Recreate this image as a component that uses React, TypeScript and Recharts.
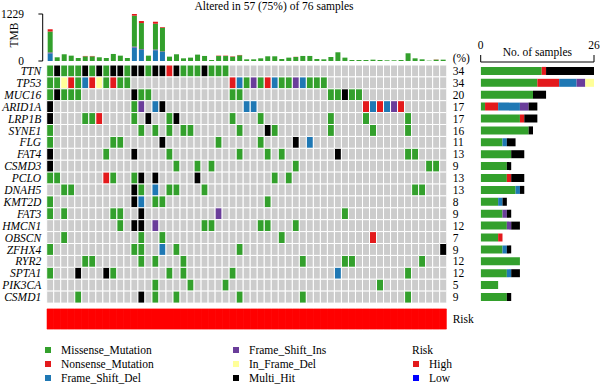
import React from 'react';
import { BarChart, Bar, XAxis, YAxis, Cell, LabelList, Label } from 'recharts';

const FONT = '"Liberation Serif", "Times New Roman", serif';

// genes (rows of the oncoplot), top to bottom
const genes = ['TTN', 'TP53', 'MUC16', 'ARID1A', 'LRP1B', 'SYNE1', 'FLG', 'FAT4', 'CSMD3', 'PCLO',
  'DNAH5', 'KMT2D', 'FAT3', 'HMCN1', 'OBSCN', 'ZFHX4', 'RYR2', 'SPTA1', 'PIK3CA', 'CSMD1'];
const genePct = [34, 34, 20, 17, 17, 16, 11, 13, 9, 13, 13, 8, 9, 12, 7, 9, 12, 12, 5, 9];

// one string per gene, one char per altered sample (57)
// G missense, R nonsense, B frame shift del, P frame shift ins, Y in frame del, K multi hit, . none
const mutationRows = [
  'GKGGGKGKGK KGKKGKKRKG GGKGGG.... .......... .......... .......',
  'GGYRGBRYGR GG........ ......RBGP GRBGGPBGGG .......... .......',
  'GKGGG..... ..KGG..... ......GG.. .......... GGKGG..... .......',
  'K......... ..GP.BK... ........BB .......... .....RBRBP R......',
  'K....GGR.. ..G.K..GK. ......G... G......... G....G.... .G.....',
  'G......... ...G.G.G.G G......G.. .KG....... G.....G... .G.....',
  'G........G G.....K... ....G..... G....K.B.. .......... .......',
  'K.......G. ..K....G.. .......G.. .G.G...... .K........ .GG....',
  'K......... ........G. .G.G...... .....G.... .......... ....GG.',
  'GG......RG ..GK.K.... .K........ ..G.G..... .......... .......',
  '..GG...... ..KG.B.GG. ..G....... .......... .......... ..GG...',
  'G......... ..KB.GG... .......... .G........ .......... .......',
  'G.G......G G..K...... ....P..... .......... ..G....... .......',
  '.......... G.KK.P.... ..GG...... GG...G.... .......... .......',
  '..G....... ...G..G... .......... ...G...... ......R... .......',
  'G......... ..GG..B.G. .......G.. .......... .......... ......K',
  '.....GG... ...G.G...G .......... ......G... ..GG...... ...G...',
  'G...K...KG .......G.G ......G... .......... .B........ .G.....',
  '.......... .....G.... G....G.... .......... .......G.. .......',
  '....G..... ...K.G..G. .......G.. ......G... .......... .G.....',
].map((s) => s.replace(/ /g, ''));

// TMB per sample, split by variant class
const tmbMissense = [545, 97, 176, 140, 79, 122, 122, 97, 79, 184, 140, 79, 808, 682, 140, 673, 617, 114, 176, 70,
  88, 167, 132, 26, 130, 130, 113, 150, 44, 44, 70, 123, 123, 53, 88, 105, 132, 132, 53, 44,
  105, 228, 88, 26, 26, 26, 35, 26, 18, 18, 26, 202, 70, 44, 9, 35, 35];
const tmbNonsense = [60, 0, 0, 0, 0, 10, 10, 0, 0, 0, 0, 0, 44, 53, 0, 53, 18, 0, 0, 0,
  0, 0, 0, 0, 10, 10, 10, 8, 0, 0, 0, 0, 0, 0, 0, 5, 0, 0, 0, 0,
  0, 0, 0, 0, 0, 0, 0, 0, 0, 0, 0, 0, 0, 0, 0, 5, 0];
const tmbFrameShiftDel = [200, 0, 0, 0, 0, 0, 0, 0, 0, 0, 0, 0, 351, 290, 0, 281, 237, 0, 0, 0,
  0, 0, 0, 0, 0, 0, 0, 0, 0, 0, 0, 0, 0, 0, 0, 0, 0, 0, 0, 0,
  0, 0, 0, 0, 0, 0, 0, 0, 0, 0, 0, 0, 0, 0, 0, 0, 0];
const tmbFrameShiftIns = [25, 0, 0, 0, 0, 0, 0, 0, 0, 0, 0, 0, 26, 20, 0, 20, 15, 0, 0, 0,
  0, 0, 0, 0, 0, 0, 0, 0, 0, 0, 0, 0, 0, 0, 0, 0, 0, 0, 0, 0,
  0, 0, 0, 0, 0, 0, 0, 0, 0, 0, 0, 0, 0, 0, 0, 0, 0];
const tmbTicks = [0, 1229];

// risk group per sample (H high, L low)
const sampleRisk = 'HHHHHHHHHHHHHHHHHHHHHHHHHHHHHHHHHHHHHHHHHHHHHHHHHHHHHHHHH';
const countTicks = [0, 26];

const TYPES = [
  { code: 'G', name: 'Missense_Mutation', color: '#33A02C' },
  { code: 'R', name: 'Nonsense_Mutation', color: '#E31A1C' },
  { code: 'B', name: 'Frame_Shift_Del', color: '#1F78B4' },
  { code: 'P', name: 'Frame_Shift_Ins', color: '#6A3D9A' },
  { code: 'Y', name: 'In_Frame_Del', color: '#FFFF99' },
  { code: 'K', name: 'Multi_Hit', color: '#000000' },
];
const CELL_COLORS: Record<string, string> = { '.': '#CCCCCC' };
TYPES.forEach((t) => { CELL_COLORS[t.code] = t.color; });
const RISK_COLORS: Record<string, string> = { H: '#FF0000', L: '#0000FF' };

const sampleIdx = mutationRows[0].split('').map((_, i) => i);

const tmbData = tmbMissense.map((v, i) => ({
  sample: i,
  fsDel: tmbFrameShiftDel[i],
  fsIns: tmbFrameShiftIns[i],
  missense: v,
  nonsense: tmbNonsense[i],
}));

const gridData = genes.map((g, gi) => {
  const row: any = { gene: g, pct: genePct[gi] };
  sampleIdx.forEach((i) => { row[`s${i}`] = 1; });
  return row;
});

const countData = genes.map((g, gi) => {
  const row: any = { gene: g };
  TYPES.forEach((t) => { row[t.code] = mutationRows[gi].split('').filter((c) => c === t.code).length; });
  return row;
});

const riskData = [(() => {
  const row: any = { track: 'Risk' };
  sampleIdx.forEach((i) => { row[`s${i}`] = 1; });
  return row;
})()];

const txt = { fill: '#000', fontSize: 11.5, fontFamily: FONT };

const LEGEND_COLS = [
  { x: 45, items: TYPES.slice(0, 3) },
  { x: 233, items: TYPES.slice(3, 6) },
];
const ROW_Y = [350, 364.2, 378.4];

export default function App() {
  return (
    <div style={{ position: 'absolute', left: 0, top: 0, width: 600, height: 385, background: '#fff', fontFamily: FONT, color: '#000', overflow: 'hidden' }}>
      <div style={{ position: 'absolute', left: 174, top: 0, width: 200, textAlign: 'center', fontSize: 11.5, lineHeight: '13px' }}>
        Altered in 57 (75%) of 76 samples
      </div>
      <div style={{ position: 'absolute', left: 13.5, top: 35, fontSize: 11.5, lineHeight: '13px', transform: 'translate(-50%, -50%) rotate(-90deg)' }}>
        TMB
      </div>

      {/* TMB bars */}
      <div style={{ position: 'absolute', left: 0, top: 0 }}>
        <BarChart width={450} height={66} data={tmbData} margin={{ top: 14, right: 3.3, bottom: 5, left: 0 }} barCategoryGap="14%">
          <XAxis dataKey="sample" hide padding={{ left: 4, right: 0 }} />
          <YAxis width={42.7} domain={[0, 1229]} ticks={tmbTicks} allowDataOverflow interval={0} tickSize={4.3} tickMargin={14.5} stroke="#000" tick={txt} />
          <Bar dataKey="fsDel" stackId="t" fill="#1F78B4" isAnimationActive={false} />
          <Bar dataKey="fsIns" stackId="t" fill="#6A3D9A" isAnimationActive={false} />
          <Bar dataKey="missense" stackId="t" fill="#33A02C" isAnimationActive={false} />
          <Bar dataKey="nonsense" stackId="t" fill="#E31A1C" isAnimationActive={false} />
        </BarChart>
      </div>

      {/* oncoplot grid */}
      <div style={{ position: 'absolute', left: 0, top: 0 }}>
        <BarChart layout="vertical" width={480} height={310} data={gridData} margin={{ top: 65, right: 33.3, bottom: 7, left: 0 }} barCategoryGap={0}>
          <XAxis type="number" domain={[0, sampleIdx.length]} allowDataOverflow hide />
          <YAxis type="category" dataKey="gene" width={46.7} interval={0} tickSize={0} tickMargin={5.5} axisLine={false} tickLine={false}
            tick={{ ...txt, fontStyle: 'italic' }} />
          {sampleIdx.map((i) => (
            <Bar key={i} dataKey={`s${i}`} stackId="m" stroke="#fff" strokeWidth={1} isAnimationActive={false}>
              {genes.map((g, gi) => <Cell key={g} fill={CELL_COLORS[mutationRows[gi][i]]} />)}
              {i === sampleIdx.length - 1 && <LabelList dataKey="pct" position="right" offset={6} {...txt} />}
            </Bar>
          ))}
        </BarChart>
      </div>

      {/* samples per gene */}
      <div style={{ position: 'absolute', left: 470, top: 0 }}>
        <BarChart layout="vertical" width={130} height={310} data={countData} margin={{ top: 42, right: 6, bottom: 7, left: 10.7 }} barCategoryGap="16%">
          <XAxis type="number" orientation="top" domain={[0, 26]} ticks={countTicks} allowDataOverflow interval={0} height={20}
            tickSize={7} tickMargin={6.5} stroke="#000" tick={txt}>
            <Label value="No. of samples" position="center" {...txt} />
          </XAxis>
          <YAxis type="category" dataKey="gene" hide padding={{ top: 3, bottom: 0 }} />
          {TYPES.map((t) => (
            <Bar key={t.code} dataKey={t.code} stackId="c" fill={t.color} isAnimationActive={false} />
          ))}
        </BarChart>
      </div>

      {/* risk annotation */}
      <div style={{ position: 'absolute', left: 0, top: 300 }}>
        <BarChart layout="vertical" width={480} height={30} data={riskData} margin={{ top: 9, right: 0, bottom: 0.7, left: 46.7 }} barCategoryGap={0}>
          <XAxis type="number" domain={[0, sampleIdx.length]} allowDataOverflow hide />
          <YAxis type="category" dataKey="track" orientation="right" width={33.3} tickSize={0} tickMargin={6} axisLine={false} tickLine={false} tick={txt} />
          {sampleIdx.map((i) => (
            <Bar key={i} dataKey={`s${i}`} stackId="r" fill={RISK_COLORS[sampleRisk[i]]} stroke={RISK_COLORS[sampleRisk[i]]}
              strokeWidth={0.8} isAnimationActive={false} />
          ))}
        </BarChart>
      </div>

      <div style={{ position: 'absolute', left: 452.7, top: 52, fontSize: 11.5, lineHeight: '13px' }}>(%)</div>

      {/* legend */}
      {LEGEND_COLS.map((col) => col.items.map((t, k) => (
        <React.Fragment key={t.code}>
          <div style={{ position: 'absolute', left: col.x, top: ROW_Y[k] - 3, width: 6, height: 6, background: t.color }} />
          <div style={{ position: 'absolute', left: col.x + 16, top: ROW_Y[k] - 7, fontSize: 11.5, lineHeight: '14px' }}>{t.name}</div>
        </React.Fragment>
      )))}
      <div style={{ position: 'absolute', left: 412, top: ROW_Y[0] - 7, fontSize: 11.5, lineHeight: '14px' }}>Risk</div>
      {[['High', 'H'], ['Low', 'L']].map(([name, code], k) => (
        <React.Fragment key={code}>
          <div style={{ position: 'absolute', left: 413, top: ROW_Y[k + 1] - 3, width: 6, height: 6, background: code === 'H' ? '#E31A1C' : RISK_COLORS[code] }} />
          <div style={{ position: 'absolute', left: 429, top: ROW_Y[k + 1] - 7, fontSize: 11.5, lineHeight: '14px' }}>{name}</div>
        </React.Fragment>
      ))}
    </div>
  );
}
